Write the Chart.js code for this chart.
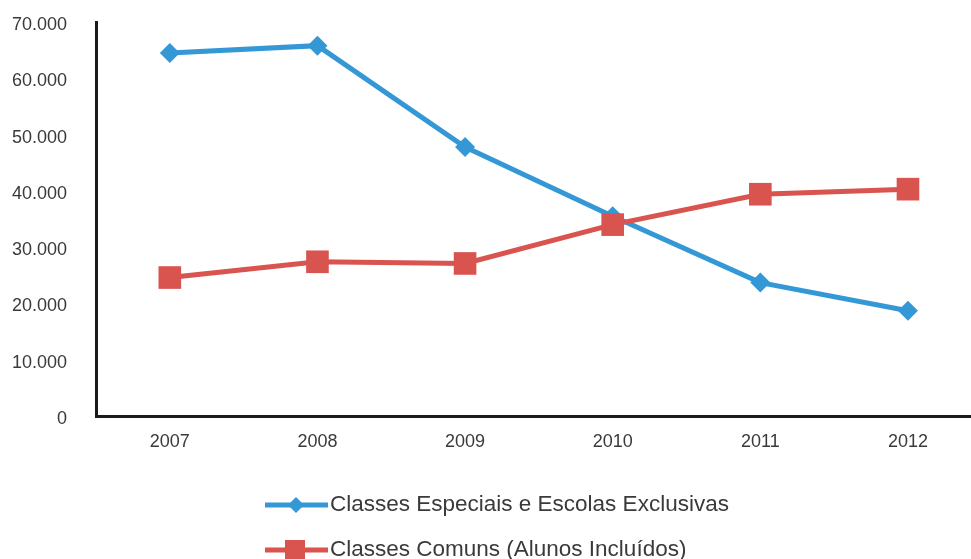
<!DOCTYPE html>
<html>
<head>
<meta charset="utf-8">
<script src="https://cdn.jsdelivr.net/npm/chart.js@4/dist/chart.umd.min.js"></script>
<style>
  html, body { margin: 0; padding: 0; background: #fff; overflow: hidden; }
  #wrap { width: 971px; height: 559px; position: relative; }
  canvas { display: block; }
</style>
</head>
<body>
<div id="wrap"><canvas id="myChart"></canvas></div>
<script>
'use strict';
const years = [2007, 2008, 2009, 2010, 2011, 2012];
const especiais = [64500, 65800, 47800, 35500, 23700, 18700];
const comuns = [24600, 27400, 27100, 34000, 39400, 40300];
const seriesNames = ['Classes Especiais e Escolas Exclusivas', 'Classes Comuns (Alunos Incluídos)'];
const yTicks = [0, 10000, 20000, 30000, 40000, 50000, 60000, 70000];

const blue = '#3598d6';
const red = '#d9534f';
const textColor = '#3a3a3a';

function toPoints(values) {
  let pts = [];
  for (let i = 0; i < years.length; i++) {
    pts.push({ x: years[i], y: values[i] });
  }
  return pts;
}

function formatThousands(v) {
  if (v === 0) return '0';
  return (v / 1000) + '.000';
}

// legend drawn by hand: two rows, line + marker
const legendPlugin = {
  id: 'customLegend',
  afterDraw(chart) {
    const ctx = chart.ctx;
    const rows = [505, 550];
    chart.data.datasets.forEach(function (ds, i) {
      const y = rows[i];
      ctx.save();
      ctx.strokeStyle = ds.borderColor;
      ctx.lineWidth = 5;
      ctx.beginPath();
      ctx.moveTo(265, y);
      ctx.lineTo(328, y);
      ctx.stroke();
      ctx.fillStyle = ds.borderColor;
      ctx.beginPath();
      if (ds.pointStyle === 'rectRot') {
        ctx.moveTo(296 - 8, y);
        ctx.lineTo(296, y - 8);
        ctx.lineTo(296 + 8, y);
        ctx.lineTo(296, y + 8);
        ctx.closePath();
      } else {
        ctx.rect(285, y - 10, 20, 20);
      }
      ctx.fill();
      ctx.fillStyle = textColor;
      ctx.font = '22.5px "Liberation Sans", Arial, sans-serif';
      ctx.textBaseline = 'middle';
      ctx.textAlign = 'left';
      ctx.fillText(seriesNames[i], 330, y);
      ctx.restore();
    });
  }
};

let ctx = document.getElementById('myChart').getContext('2d');
let chart = new Chart(ctx, {
  type: 'line',
  data: {
    datasets: [{
      label: seriesNames[0],
      data: toPoints(especiais),
      borderColor: blue,
      backgroundColor: blue,
      borderWidth: 5,
      pointStyle: 'rectRot',
      pointRadius: 10,
      pointBorderWidth: 0,
      tension: 0,
      order: 1
    },
    {
      label: seriesNames[1],
      data: toPoints(comuns),
      borderColor: red,
      backgroundColor: red,
      borderWidth: 5,
      pointStyle: 'rect',
      pointRadius: 16,
      pointBorderWidth: 0,
      tension: 0,
      order: 0
    }]
  },
  options: {
    responsive: true,
    maintainAspectRatio: false,
    animation: false,
    layout: { autoPadding: false, padding: { top: 22, right: 0, bottom: 0, left: 0 } },
    plugins: {
      legend: { display: false },
      tooltip: { enabled: false }
    },
    scales: {
      x: {
        type: 'linear',
        min: 2006.5,
        max: 2012.427,
        afterBuildTicks: function (scale) {
          scale.ticks = years.map(function (v) { return { value: v }; });
        },
        afterFit: function (scale) {
          scale.height = 143;
          scale.paddingLeft = 0;
          scale.paddingRight = 0;
        },
        grid: { drawOnChartArea: false, drawTicks: false },
        border: { color: '#1a1a1a', width: 3 },
        ticks: {
          color: textColor,
          padding: 15,
          maxRotation: 0,
          font: { family: '"Liberation Sans", Arial, sans-serif', size: 18 },
          callback: function (v) { return String(v); }
        }
      },
      y: {
        min: 0,
        max: 70000,
        afterBuildTicks: function (scale) {
          scale.ticks = yTicks.map(function (v) { return { value: v }; });
        },
        afterFit: function (scale) {
          scale.width = 96;
          scale.paddingTop = 0;
          scale.paddingBottom = 0;
        },
        grid: { drawOnChartArea: false, drawTicks: false },
        border: { color: '#1a1a1a', width: 3 },
        ticks: {
          color: textColor,
          padding: 29,
          labelOffset: 3,
          font: { family: '"Liberation Sans", Arial, sans-serif', size: 18 },
          callback: formatThousands
        }
      }
    }
  },
  plugins: [legendPlugin]
});
</script>
</body>
</html>
